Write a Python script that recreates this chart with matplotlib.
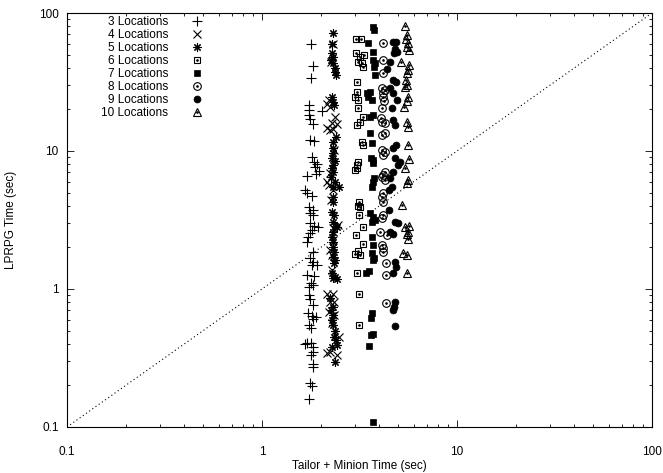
import matplotlib
matplotlib.use('Agg')
import matplotlib.pyplot as plt
from matplotlib.legend_handler import HandlerTuple

plt.rcParams['font.family'] = ['Liberation Sans', 'DejaVu Sans']
plt.rcParams['font.size'] = 8.5

# Tailor + Minion time (x) vs LPRPG time (y), seconds
x3 = [1.78, 1.83, 1.78, 1.74, 1.74, 2.03, 1.74, 1.76, 1.83, 1.76, 1.85, 1.80, 1.85, 1.91, 1.87, 1.96,
      1.89, 1.70, 1.66, 1.70, 1.80, 1.74, 1.83, 1.76, 1.83, 1.76, 1.85, 1.94, 1.80, 1.76, 1.72, 1.70,
      1.83, 1.76, 1.83, 1.80, 1.91, 1.70, 1.85, 1.78, 1.83, 1.74, 1.74, 1.76, 1.83, 1.72, 1.80, 1.89,
      1.83, 1.74, 1.78, 1.70, 1.78, 1.66, 1.83, 1.83, 1.78, 1.83, 1.83, 1.76, 1.80, 1.74]
y3 = [59.6, 41.3, 33.8, 21.5, 19.8, 19.5, 18.2, 17.1, 15.7, 12.0, 11.8, 9.04, 8.31, 8.04, 7.65, 7.15,
      6.81, 6.58, 5.21, 4.96, 4.71, 3.93, 3.73, 3.55, 3.44, 3.01, 2.86, 2.81, 2.68, 2.55, 2.38, 2.19,
      1.85, 1.68, 1.57, 1.49, 1.49, 1.26, 1.24, 1.105, 1.07, 1.03, 0.904, 0.845, 0.765, 0.669, 0.637, 0.626,
      0.605, 0.548, 0.521, 0.406, 0.406, 0.399, 0.380, 0.349, 0.332, 0.286, 0.272, 0.208, 0.198, 0.159]

x4 = [2.21, 2.15, 2.23, 2.37, 2.29, 2.42, 2.15, 2.23, 2.31, 2.23, 2.15, 2.21, 2.31, 2.45, 2.31, 2.23,
      2.29, 2.15, 2.31, 2.23, 2.34, 2.21, 2.29, 2.48, 2.15, 2.42, 2.23, 2.31, 2.26, 2.34, 2.26, 2.31,
      2.29, 2.34]
y4 = [23.4, 21.9, 20.8, 17.6, 15.9, 15.7, 14.7, 14.2, 14.4, 6.92, 5.96, 5.67, 5.21, 2.91, 2.77, 1.92,
      1.76, 0.92, 0.92, 0.804, 0.804, 0.681, 0.567, 0.449, 0.344, 0.332, 0.349, 59.6, 44.1, 10.2, 4.41, 2.26,
      1.37, 0.648]

x5 = [2.31, 2.29, 2.29, 2.31, 2.26, 2.31, 2.37, 2.37, 2.40, 2.29, 2.31, 2.34, 2.40, 2.31, 2.31, 2.31,
      2.29, 2.37, 2.31, 2.29, 2.31, 2.26, 2.37, 2.48, 2.31, 2.31, 2.31, 2.29, 2.34, 2.31, 2.37, 2.42,
      2.31, 2.29, 2.31, 2.31, 2.34, 2.31, 2.37, 2.34, 2.29, 2.37, 2.42, 2.31, 2.23, 2.31, 2.26, 2.31,
      2.29, 2.31, 2.37, 2.34, 2.40, 2.29, 2.42, 2.37]
y5 = [71.5, 59.6, 51.2, 48.0, 45.6, 43.4, 39.9, 37.3, 35.5, 24.6, 22.6, 21.5, 12.6, 11.6, 10.5, 9.66,
      8.89, 8.45, 7.91, 7.53, 7.04, 6.48, 5.96, 5.48, 5.48, 4.64, 4.27, 3.61, 3.44, 3.06, 2.86, 2.81,
      2.59, 2.38, 2.19, 2.01, 1.85, 1.71, 1.62, 1.54, 1.31, 1.22, 1.18, 1.20, 0.86, 0.740, 0.704, 0.648,
      0.596, 0.548, 0.50, 0.449, 0.427, 0.380, 0.393, 0.296]

x6 = [3.03, 3.22, 3.03, 3.18, 3.34, 3.11, 3.26, 3.30, 3.07, 3.07, 3.00, 3.11, 3.11, 3.30, 3.18, 3.07,
      3.26, 3.30, 3.11, 3.07, 3.00, 3.07, 3.14, 3.11, 3.18, 3.14, 3.30, 3.03, 3.30, 3.11, 3.00, 3.18,
      3.07, 3.14, 3.14]
y6 = [64.8, 64.8, 51.2, 48.0, 49.6, 44.1, 43.4, 40.6, 31.6, 26.8, 24.6, 23.4, 20.4, 17.6, 16.2, 15.4,
      11.6, 11.0, 8.31, 7.91, 7.27, 7.53, 4.27, 3.99, 3.93, 3.44, 2.81, 2.46, 2.12, 1.88, 1.79, 1.76,
      1.31, 0.92, 0.548]

x7 = [3.71, 3.75, 3.50, 3.71, 3.71, 3.80, 3.75, 3.80, 3.58, 3.46, 3.50, 3.67, 3.58, 3.71, 3.58, 3.67,
      3.62, 3.71, 3.71, 3.75, 3.71, 3.67, 3.58, 3.71, 3.80, 3.67, 3.67, 3.71, 3.67, 3.75, 3.71, 3.54,
      3.41, 3.67, 3.62, 3.71, 3.62, 3.54, 3.71]
y7 = [79.1, 75.3, 60.5, 52.1, 45.6, 43.4, 40.6, 35.5, 26.8, 26.4, 24.6, 23.4, 17.6, 18.2, 13.5, 11.4,
      8.89, 8.6, 8.18, 6.37, 5.96, 5.48, 3.55, 3.32, 3.16, 3.06, 2.38, 2.08, 1.82, 1.68, 1.62, 1.35,
      1.31, 0.669, 0.615, 0.471, 0.464, 0.386, 0.109]

x8 = [4.17, 4.17, 4.17, 4.13, 4.17, 4.27, 4.17, 4.22, 4.13, 4.08, 4.13, 4.27, 4.13, 4.27, 4.27, 4.17,
      4.13, 4.27, 4.17, 4.27, 4.13, 4.17, 4.13, 4.17, 4.17, 4.13, 4.03, 4.38, 4.13, 4.17, 4.17, 4.32,
      4.32, 4.32]
y8 = [60.5, 45.6, 36.7, 28.6, 26.4, 27.7, 24.6, 23.0, 20.4, 17.4, 16.2, 15.9, 13.1, 13.5, 9.8, 9.4,
      10.2, 7.04, 6.69, 6.15, 6.48, 5.0, 4.64, 4.27, 3.44, 3.27, 2.59, 2.46, 2.08, 1.98, 1.85, 1.54,
      1.26, 0.791]

x9 = [4.70, 4.87, 4.81, 4.92, 4.75, 4.53, 4.38, 4.70, 4.87, 4.53, 4.70, 4.92, 4.64, 4.70, 4.81, 4.87,
      4.70, 4.81, 5.10, 4.98, 4.70, 4.53, 4.64, 4.48, 4.48, 4.81, 4.98, 4.53, 4.70, 4.81, 4.87, 4.70,
      4.81, 4.75, 4.70, 4.81]
y9 = [61.5, 61.5, 54.8, 52.1, 51.2, 44.1, 39.3, 32.7, 31.6, 28.6, 26.4, 23.4, 20.4, 16.8, 15.4, 11.0,
      10.5, 8.89, 8.31, 7.91, 7.04, 6.37, 5.48, 5.21, 3.73, 3.06, 3.01, 2.59, 2.50, 1.57, 1.44, 1.31,
      0.804, 0.740, 0.704, 0.539]

x10 = [5.41, 5.54, 5.48, 5.61, 5.54, 5.67, 5.16, 5.67, 5.61, 5.54, 5.48, 5.54, 5.41, 5.61, 5.54, 5.35,
       5.54, 5.61, 5.61, 5.67, 5.41, 5.61, 5.54, 5.22, 5.67, 5.41, 5.61, 5.54, 5.61, 5.29, 5.54, 5.54]
y10 = [80.4, 69.2, 64.8, 60.5, 56.7, 53.9, 44.1, 42.0, 38.6, 36.7, 32.7, 30.1, 29.1, 24.6, 23.0, 20.8,
       16.2, 14.9, 11.0, 8.74, 7.53, 6.15, 5.86, 4.06, 2.86, 2.81, 2.59, 2.50, 2.30, 1.82, 1.76, 1.31]

limits = [0.1, 100]
ticks = [0.1, 1, 10, 100]
tick_labels = ['0.1', '1', '10', '100']

fig = plt.figure(figsize=(6.63, 4.73), dpi=100)
ax = fig.add_axes([0.101, 0.0973, 0.8824, 0.8752])
ax.set_xscale('log')
ax.set_yscale('log')

k = dict(linestyle='none', color='k')
h3, = ax.plot(x3, y3, marker='+', ms=7, mew=0.8, **k)
h4, = ax.plot(x4, y4, marker='x', ms=5.5, mew=0.8, **k)
h5, = ax.plot(x5, y5, marker=(8, 2, 0), ms=6, mew=0.8, **k)
h6a, = ax.plot(x6, y6, marker='s', ms=5, mew=0.8, mfc='none', **k)
h6b, = ax.plot(x6, y6, marker='.', ms=1.8, **k)
h7, = ax.plot(x7, y7, marker='s', ms=5, mew=0.5, **k)
h8a, = ax.plot(x8, y8, marker='o', ms=5.5, mew=0.8, mfc='none', **k)
h8b, = ax.plot(x8, y8, marker='.', ms=1.8, **k)
h9, = ax.plot(x9, y9, marker='o', ms=5, mew=0.5, **k)
h10a, = ax.plot(x10, y10, marker='^', ms=6, mew=0.8, mfc='none', **k)
h10b, = ax.plot(x10, y10, marker='.', ms=1.8, **k)

ax.plot(limits, limits, color='k', lw=0.8, dashes=(1, 2.5))

ax.set_xlim(limits)
ax.set_ylim(limits)
ax.set_xticks(ticks)
ax.set_xticklabels(tick_labels)
ax.set_yticks(ticks)
ax.set_yticklabels(tick_labels)
ax.tick_params(which='both', direction='in', top=True, right=True, width=0.6)
ax.tick_params(which='major', length=5)
ax.tick_params(which='minor', length=2.5)
ax.tick_params(axis='x', pad=14)
ax.tick_params(axis='y', pad=6)
for s in ax.spines.values():
    s.set_linewidth(0.8)

ax.set_xlabel('Tailor + Minion Time (sec)', labelpad=1)
ax.set_ylabel('LPRPG Time (sec)', labelpad=16)

handles = [h3, h4, h5, (h6a, h6b), h7, (h8a, h8b), h9, (h10a, h10b)]
names = ['%d Locations' % n for n in range(3, 11)]
ax.legend(handles, names, loc='upper right', bbox_to_anchor=(0.248, 1.012), frameon=False,
          markerfirst=False, handlelength=1.2, handletextpad=1.8, labelspacing=0.08,
          borderaxespad=0.3, handler_map={tuple: HandlerTuple(ndivide=1)})

fig.savefig('out.png', dpi=100)
